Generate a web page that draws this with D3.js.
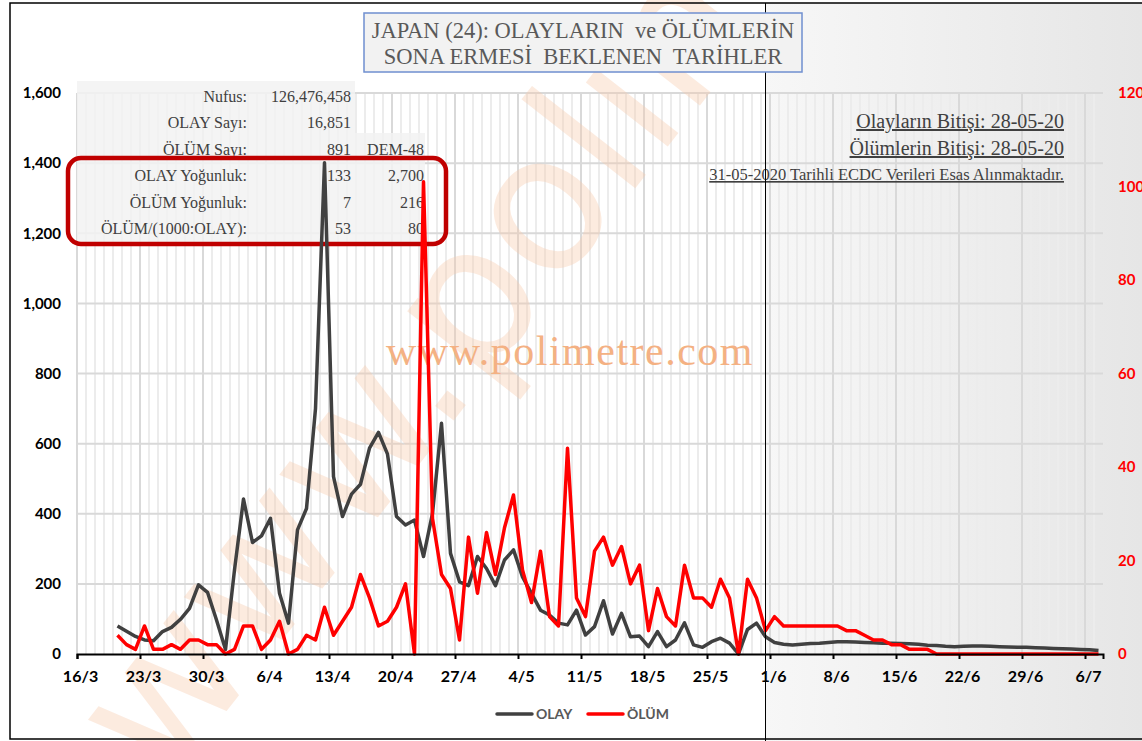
<!DOCTYPE html>
<html>
<head>
<meta charset="utf-8">
<script src="https://cdn.jsdelivr.net/npm/d3@7"></script>
<style>
body { margin: 0; background: #fff; }
svg { display: block; }
</style>
</head>
<body>
<div id="chart"></div>
<script>

// daily values from 20/3 to 7/7 (after 31/5 = projection)
var firstDay = "2020-03-20";
var olay = [80, 65, 50, 40, 38, 64, 76, 99, 130, 197, 176, 97, 13, 240, 442, 318, 337, 387, 173, 88,
  354, 415, 700, 1401, 506, 392, 456, 484, 587, 632, 570, 392, 368, 382, 278, 401, 658, 287, 206, 195,
  278, 244, 195, 268, 297, 220, 173, 125, 111, 88, 83, 125, 54, 78, 152, 57, 116, 49, 51, 21,
  64, 21, 40, 89, 26, 19, 35, 45, 31, 0, 70, 88, 49, 33, 28, 26, 28, 30, 31, 33,
  35, 35, 34, 33, 32, 31, 31, 30, 29, 28, 25, 24, 22, 21, 22, 23, 23, 22, 21, 20,
  19, 19, 18, 17, 16, 15, 14, 13, 12, 10];
var olum = [4, 2, 1, 6, 1, 1, 2, 1, 3, 3, 2, 2, 0, 1, 6, 6, 1, 3, 7, 0,
  1, 4, 3, 10, 4, 7, 10, 17, 12, 6, 7, 10, 15, 0, 101, 29, 17, 14, 3, 25,
  13, 26, 17, 27, 34, 18, 11, 22, 8, 6, 44, 12, 8, 22, 25, 19, 23, 15, 19, 5,
  14, 8, 6, 19, 12, 12, 10, 16, 12, 0, 16, 12, 5, 8, 6, 6, 6, 6, 6, 6,
  6, 5, 5, 4, 3, 3, 2, 2, 1, 1, 1, 0, 0, 0, 0, 0, 0, 0, 0, 0,
  0, 0, 0, 0, 0, 0, 0, 0, 0, 0];

var xTickLabels = ["16/3", "23/3", "30/3", "6/4", "13/4", "20/4", "27/4", "4/5", "11/5", "18/5",
  "25/5", "1/6", "8/6", "15/6", "22/6", "29/6", "6/7"];
var leftTicks = [0, 200, 400, 600, 800, 1000, 1200, 1400, 1600];
var rightTicks = [0, 20, 40, 60, 80, 100, 120];

var statLabels = ["Nufus:", "OLAY Sayı:", "ÖLÜM Sayı:", "OLAY Yoğunluk:", "ÖLÜM Yoğunluk:", "ÖLÜM/(1000:OLAY):"];
var statValues = ["126,476,458", "16,851", "891", "133", "7", "53"];
var statExtra = ["", "", "DEM-48", "2,700", "216", "80"];

var endNotes = ["Olayların Bitişi: 28-05-20", "Ölümlerin Bitişi: 28-05-20"];
var sourceNote = "31-05-2020 Tarihli ECDC Verileri Esas Alınmaktadır.";
var dataDate = "2020-05-31";

var titleLines = ["JAPAN (24): OLAYLARIN  ve ÖLÜMLERİN", "SONA ERMESİ  BEKLENEN  TARİHLER"];
var legendItems = [{ name: "OLAY", color: "#404040" }, { name: "ÖLÜM", color: "#ff0000" }];

var W = 1142, H = 741;
var plot = { left: 77, right: 1103, top: 93, bottom: 654 };

var parse = d3.timeParse("%Y-%m-%d");
var start = parse(firstDay);
var tickDates = xTickLabels.map(function (s) {
  var p = s.split("/");
  return new Date(2020, +p[1] - 1, +p[0]);
});

var x = d3.scaleTime()
  .domain([tickDates[0], d3.timeDay.offset(tickDates[tickDates.length - 1], 2)])
  .range([plot.left, plot.right]);
var yL = d3.scaleLinear().domain([0, 1600]).range([plot.bottom, plot.top]);
var yR = d3.scaleLinear().domain([0, 120]).range([plot.bottom, plot.top]);

function dayX(i) {
  return x(d3.timeHour.offset(d3.timeDay.offset(start, i), 12));
}

var svg = d3.select("#chart").append("svg")
  .attr("width", W)
  .attr("height", H);

svg.append("defs").append("linearGradient")
  .attr("id", "shade")
  .selectAll("stop")
  .data([["0%", "#f7f7f7"], ["100%", "#e6e6e6"]])
  .enter().append("stop")
  .attr("offset", function (d) { return d[0]; })
  .attr("stop-color", function (d) { return d[1]; });

// projection area after data date
var cutX = x(d3.timeHour.offset(parse(dataDate), 12));
svg.append("rect")
  .attr("x", cutX).attr("y", 3)
  .attr("width", W - cutX).attr("height", H - 3)
  .attr("fill", "url(#shade)");

// grid
var days = d3.timeDay.range(x.domain()[0], x.domain()[1]);
svg.append("g").selectAll("line")
  .data(days)
  .enter().append("line")
  .attr("x1", function (d) { return x(d); })
  .attr("x2", function (d) { return x(d); })
  .attr("y1", plot.top).attr("y2", plot.bottom)
  .attr("stroke", "#ececec")
  .attr("stroke-width", 2);

svg.append("g").selectAll("line")
  .data(tickDates)
  .enter().append("line")
  .attr("x1", function (d) { return x(d); })
  .attr("x2", function (d) { return x(d); })
  .attr("y1", plot.top).attr("y2", plot.bottom)
  .attr("stroke", "#d9d9d9")
  .attr("stroke-width", 2);

svg.append("g").selectAll("line")
  .data(leftTicks.slice(1))
  .enter().append("line")
  .attr("x1", plot.left).attr("x2", plot.right)
  .attr("y1", function (d) { return yL(d); })
  .attr("y2", function (d) { return yL(d); })
  .attr("stroke", "#d9d9d9")
  .attr("stroke-width", 2);

// big diagonal watermark
svg.append("text")
  .attr("transform", "translate(165,790) rotate(-52)")
  .attr("font-family", "DejaVu Sans")
  .attr("font-size", 190)
  .attr("fill", "#f8cbad")
  .attr("opacity", 0.38)
  .text("www.polimetre.com");

// stats table
svg.append("rect")
  .attr("x", plot.left).attr("y", 81)
  .attr("width", 278).attr("height", 162)
  .attr("fill", "#f2f2f2").attr("opacity", 0.85);
svg.append("rect")
  .attr("x", 355).attr("y", 133)
  .attr("width", 70).attr("height", 110)
  .attr("fill", "#f2f2f2").attr("opacity", 0.85);

var rows = svg.append("g")
  .attr("font-family", "Liberation Serif")
  .attr("font-size", 16)
  .attr("fill", "#404040")
  .attr("text-anchor", "end");
statLabels.forEach(function (lab, i) {
  var yy = 102 + i * 26.4;
  rows.append("text").attr("x", 247).attr("y", yy).text(lab);
  rows.append("text").attr("x", 351).attr("y", yy).text(statValues[i]);
  if (statExtra[i]) rows.append("text").attr("x", 424).attr("y", yy).text(statExtra[i]);
});

svg.append("rect")
  .attr("x", 68).attr("y", 158)
  .attr("width", 378).attr("height", 86)
  .attr("rx", 13)
  .attr("fill", "none")
  .attr("stroke", "#c00000")
  .attr("stroke-width", 4.5);

// notes on the right
var notes = svg.append("g")
  .attr("font-family", "Liberation Serif")
  .attr("fill", "#404040")
  .attr("text-anchor", "end")
  .attr("text-decoration", "underline");
endNotes.forEach(function (t, i) {
  notes.append("text").attr("x", 1064).attr("y", 128 + i * 27)
    .attr("font-size", 20).text(t);
});
notes.append("text").attr("x", 1064).attr("y", 180)
  .attr("font-size", 16.5).text(sourceNote);

// small watermark
svg.append("text")
  .attr("x", 570).attr("y", 365)
  .attr("text-anchor", "middle")
  .attr("font-family", "Liberation Serif")
  .attr("font-size", 42)
  .attr("letter-spacing", 1.5)
  .attr("fill", "#f4b183")
  .text("www.polimetre.com");

// series
var lineL = d3.line()
  .x(function (d, i) { return dayX(i); })
  .y(function (d) { return yL(d); });
var lineR = d3.line()
  .x(function (d, i) { return dayX(i); })
  .y(function (d) { return yR(d); });

svg.append("path")
  .datum(olay)
  .attr("d", lineL)
  .attr("fill", "none")
  .attr("stroke", legendItems[0].color)
  .attr("stroke-width", 3.5)
  .attr("stroke-linejoin", "round");

svg.append("path")
  .datum(olum)
  .attr("d", lineR)
  .attr("fill", "none")
  .attr("stroke", legendItems[1].color)
  .attr("stroke-width", 3.5)
  .attr("stroke-linejoin", "round");

// axes
var axisFont = "Lato";
var gx = svg.append("g")
  .attr("transform", "translate(0," + plot.bottom + ")")
  .call(d3.axisBottom(x).tickValues(tickDates).tickSize(5).tickPadding(12)
    .tickFormat(function (d, i) { return xTickLabels[i]; }));
gx.select(".domain").attr("stroke", "#000").attr("stroke-width", 2);
gx.selectAll(".tick line").attr("stroke", "#000").attr("stroke-width", 2);
gx.selectAll("text")
  .attr("font-family", axisFont).attr("font-weight", 700)
  .attr("font-size", 16).attr("fill", "#000")
  .attr("dx", 3);

var gl = svg.append("g")
  .attr("transform", "translate(" + plot.left + ",0)")
  .call(d3.axisLeft(yL).tickValues(leftTicks).tickSize(0).tickPadding(16)
    .tickFormat(d3.format(",")));
gl.select(".domain").remove();
gl.selectAll("text")
  .attr("font-family", axisFont).attr("font-weight", 700)
  .attr("font-size", 15).attr("fill", "#000");

var gr = svg.append("g")
  .attr("transform", "translate(" + plot.right + ",0)")
  .call(d3.axisRight(yR).tickValues(rightTicks).tickSize(0).tickPadding(15));
gr.select(".domain").remove();
gr.selectAll("text")
  .attr("font-family", axisFont).attr("font-weight", 700)
  .attr("font-size", 15).attr("fill", "#ff0000");

// divider at data date
svg.append("line")
  .attr("x1", cutX).attr("x2", cutX)
  .attr("y1", 3).attr("y2", H)
  .attr("stroke", "#000").attr("stroke-width", 1);

// title box
svg.append("rect")
  .attr("x", 364).attr("y", 13)
  .attr("width", 438).attr("height", 59)
  .attr("fill", "#f2f2f2")
  .attr("stroke", "#6f8fcf")
  .attr("stroke-width", 1.5);
svg.append("g")
  .attr("font-family", "Liberation Serif")
  .attr("font-size", 22.5)
  .attr("fill", "#595959")
  .attr("text-anchor", "middle")
  .selectAll("text")
  .data(titleLines)
  .enter().append("text")
  .attr("x", 583)
  .attr("y", function (d, i) { return 38 + i * 26; })
  .style("white-space", "pre")
  .text(function (d) { return d; });

// legend
var lg = svg.append("g")
  .selectAll("g")
  .data(legendItems)
  .enter().append("g")
  .attr("transform", function (d, i) { return "translate(" + (497 + i * 91) + ",714)"; });
lg.append("line")
  .attr("x1", 0).attr("x2", 35)
  .attr("stroke", function (d) { return d.color; })
  .attr("stroke-width", 3.5)
  .attr("stroke-linecap", "round");
lg.append("text")
  .attr("x", 39).attr("y", 5)
  .attr("font-family", axisFont).attr("font-weight", 700)
  .attr("font-size", 14).attr("fill", "#595959")
  .text(function (d) { return d.name; });

// outer border
svg.append("path")
  .attr("d", "M" + W + ",3H10V739H" + W)
  .attr("fill", "none")
  .attr("stroke", "#000")
  .attr("stroke-width", 1.5);

</script>
</body>
</html>
